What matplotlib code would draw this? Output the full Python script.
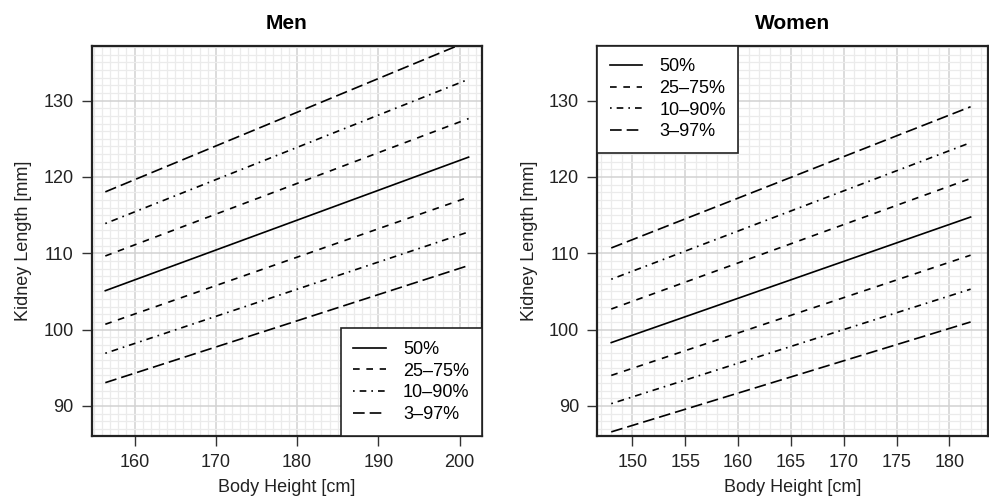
import numpy as np
import matplotlib
matplotlib.use("Agg")
import matplotlib.pyplot as plt
from matplotlib.ticker import MultipleLocator

plt.rcParams['font.family'] = ['Liberation Sans', 'DejaVu Sans']

# ---------------- data (start / end of each regression line) ----------------
men_height = [156.4, 201.1]
men_p50 = [105.1, 122.6]
men_p25 = [100.7, 117.35]
men_p75 = [109.65, 127.65]
men_p10 = [96.9, 112.8]
men_p90 = [113.9, 132.8]
men_p3 = [93.05, 108.4]
men_p97 = [118.05, 137.8]

women_height = [148.0, 182.0]
women_p50 = [98.3, 114.75]
women_p25 = [94.0, 109.75]
women_p75 = [102.7, 119.8]
women_p10 = [90.3, 105.3]
women_p90 = [106.6, 124.5]
women_p3 = [86.6, 101.0]
women_p97 = [110.7, 129.2]

labels = ["50%", "25\u201375%", "10\u201390%", "3\u201397%"]
men_xticks = [160, 170, 180, 190, 200]
women_xticks = [150, 155, 160, 165, 170, 175, 180]
yticks = [90, 100, 110, 120, 130]

styles = ['-', (0, (4, 4)), (0, (1, 3, 4, 3)), (0, (7, 3))]
lw = 1.2

fig = plt.figure(figsize=(9.89, 5.01), dpi=100)
ax1 = fig.add_axes([91.5 / 989, 1 - 435.7 / 501, 390.5 / 989, 390 / 501])
ax2 = fig.add_axes([597 / 989, 1 - 435.7 / 501, 390.5 / 989, 390 / 501])


def draw(ax, x, p50, p25, p75, p10, p90, p3, p97, xlim, xticks, title, loc):
    handles = []
    h, = ax.plot(x, p50, color='black', lw=lw, linestyle=styles[0])
    handles.append(h)
    for lo, hi, st in [(p25, p75, styles[1]), (p10, p90, styles[2]), (p3, p97, styles[3])]:
        h, = ax.plot(x, lo, color='black', lw=lw, linestyle=st)
        ax.plot(x, hi, color='black', lw=lw, linestyle=st)
        handles.append(h)

    ax.set_xlim(xlim)
    ax.set_ylim(86.1, 137.2)
    ax.set_xticks(xticks)
    ax.set_yticks(yticks)
    ax.xaxis.set_minor_locator(MultipleLocator(1))
    ax.yaxis.set_minor_locator(MultipleLocator(1))
    ax.grid(which='minor', color='#ebebeb', lw=0.9)
    ax.grid(which='major', color='#d2d2d2', lw=1.1)
    ax.set_axisbelow(True)
    ax.tick_params(which='minor', length=0)
    ax.tick_params(which='major', direction='out', length=7, width=1, labelsize=13, pad=6,
                   color='#333333', labelcolor='#222222')
    for s in ax.spines.values():
        s.set_linewidth(1.6)
        s.set_color('#222222')
    ax.set_title(title, fontsize=15, fontweight='bold', pad=12)
    ax.set_xlabel("Body Height [cm]", fontsize=13, labelpad=6, color='#222222')
    ax.set_ylabel("Kidney Length [mm]", fontsize=13, labelpad=8, color='#222222')

    leg = ax.legend(handles, labels, loc=loc, fontsize=13, frameon=True, fancybox=False,
                    borderaxespad=0, handlelength=1.8, handletextpad=0.95,
                    labelspacing=0.26, borderpad=0.7)
    leg.get_frame().set_edgecolor('#222222')
    leg.get_frame().set_linewidth(1.2)
    leg.get_frame().set_alpha(1)


draw(ax1, men_height, men_p50, men_p25, men_p75, men_p10, men_p90, men_p3, men_p97,
     (154.7, 202.75), men_xticks, "Men", 'lower right')
draw(ax2, women_height, women_p50, women_p25, women_p75, women_p10, women_p90, women_p3, women_p97,
     (146.65, 183.6), women_xticks, "Women", 'upper left')

plt.savefig("out.png", dpi=100)
